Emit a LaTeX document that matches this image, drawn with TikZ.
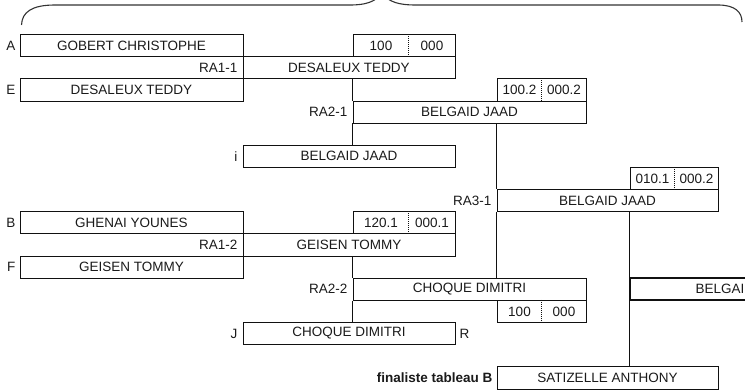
\documentclass[tikz,border=0pt]{standalone}
\usepackage{fontspec}
\setmainfont{Liberation Sans}
\usetikzlibrary{calc,positioning}
\definecolor{txt}{HTML}{1A1A1A}
\definecolor{ln}{HTML}{111111}
\definecolor{brc}{HTML}{333333}
\newcommand{\fsz}{\fontsize{13.5}{16}\selectfont}
\begin{document}
\begin{tikzpicture}[x=1pt,y=-1pt,
  namebox/.style={draw=ln, line width=0.8pt, rectangle, inner sep=0pt, minimum height=22.15pt, text=txt, font=\fsz},
  scorebox/.style={draw=ln, line width=0.8pt, rectangle, inner sep=0pt, minimum height=22.15pt},
  thickbox/.style={namebox, line width=2pt},
  num/.style={inner sep=0pt, text=txt, font=\fsz},
  lbl/.style={inner sep=0pt, text=txt, font=\fsz},
  conn/.style={draw=ln, line width=0.8pt},
  dotsep/.style={draw=ln, line width=0.7pt, dash pattern=on 0.8pt off 1.2pt},
  brace/.style={draw=brc, line width=1.1pt}]
\useasboundingbox (0,0) rectangle (745,390);
\clip (0,0) rectangle (745,390);

% brace
\draw[brace] (21.5,25) .. controls (22,12) and (32,5) .. (55,5) -- (350,5)
  .. controls (366,5) and (374,2) .. (382,-6);
\draw[brace] (382,-6) .. controls (390,2) and (398,5) .. (416,5) -- (718,5)
  .. controls (735,5) and (742,12) .. (742,22);

% first quarter
\node[namebox, minimum width=223pt] (A) at (131.5,45.575) {GOBERT CHRISTOPHE};
\node[scorebox, minimum width=102pt] (S1) at (404,45.575) {};
\node[num] (S1a) at (381,45.575) {100};
\node[num] (S1b) at (432,45.575) {000};
\node[namebox, minimum width=212pt] (RA11) at (349,67.725) {DESALEUX TEDDY};
\node[namebox, minimum width=223pt] (E) at (131.5,89.875) {DESALEUX TEDDY};
\node[scorebox, minimum width=89pt] (S2) at (541.5,89.875) {};
\node[num] (S2a) at (519.5,89.875) {100.2};
\node[num] (S2b) at (564,89.875) {000.2};
\node[namebox, minimum width=233pt] (RA21) at (469.5,112.025) {BELGAID JAAD};
\node[namebox, minimum width=212pt] (I) at (349,156.325) {BELGAID JAAD};
\node[scorebox, minimum width=88pt] (S3) at (674,178.475) {};
\node[num] (S3a) at (652.5,178.475) {010.1};
\node[num] (S3b) at (696.5,178.475) {000.2};
\node[namebox, minimum width=221pt] (RA31) at (607.5,200.625) {BELGAID JAAD};

% second quarter
\node[namebox, minimum width=223pt] (B) at (131.5,222.775) {GHENAI YOUNES};
\node[scorebox, minimum width=102pt] (S4) at (404,222.775) {};
\node[num] (S4a) at (381,222.775) {120.1};
\node[num] (S4b) at (432,222.775) {000.1};
\node[namebox, minimum width=212pt] (RA12) at (349,244.925) {GEISEN TOMMY};
\node[namebox, minimum width=223pt] (F) at (131.5,267.075) {GEISEN TOMMY};
\node[namebox, minimum width=233pt] (RA22) at (469.5,289.225) {CHOQUE DIMITRI};
\node[scorebox, minimum width=89pt] (S5) at (541.5,311.375) {};
\node[num] (S5a) at (519.5,311.375) {100};
\node[num] (S5b) at (564,311.375) {000};
\node[namebox, minimum width=212pt] (J) at (349,333.525) {CHOQUE DIMITRI};

% right side
\node[namebox, minimum width=221pt] (FIN) at (607.5,377.825) {SATIZELLE ANTHONY};
\draw[conn] (RA31.south -| S3.south west) -- (FIN.north -| S3.south west);
\node[thickbox, minimum width=228pt] (BEL) at (744,289.225) {BELGAID JAAD};

% labels
\node[lbl, left=4pt of A] (lA) {A};
\node[lbl, left=4pt of E] (lE) {E};
\node[lbl, left=4pt of B] (lB) {B};
\node[lbl, left=4pt of F] (lF) {F};
\node[lbl, left=5pt of RA11] (lRA11) {RA1-1};
\node[lbl, left=5pt of RA12] (lRA12) {RA1-2};
\node[lbl, left=5pt of RA21] (lRA21) {RA2-1};
\node[lbl, left=5pt of RA22] (lRA22) {RA2-2};
\node[lbl, left=5pt of RA31] (lRA31) {RA3-1};
\node[lbl, left=5pt of I] (lI) {i};
\node[lbl, left=5pt of J] (lJ) {J};
\node[lbl, right=4pt of J] (lR) {R};
\node[lbl, left=4pt of FIN, font=\fsz\bfseries] (lFIN) {finaliste tableau B};

% dotted separators in score boxes
\draw[dotsep] ($(S1.north west)+(56,0)$) -- ($(S1.south west)+(56,0)$);
\draw[dotsep] ($(S2.north west)+(45,0)$) -- ($(S2.south west)+(45,0)$);
\draw[dotsep] ($(S3.north west)+(45,0)$) -- ($(S3.south west)+(45,0)$);
\draw[dotsep] ($(S4.north west)+(56,0)$) -- ($(S4.south west)+(56,0)$);
\draw[dotsep] ($(S5.north west)+(45,0)$) -- ($(S5.south west)+(45,0)$);

% connectors
\draw[conn] (RA11.south -| RA21.north west) -- (RA21.north west);
\draw[conn] (RA21.south west) -- (I.north -| RA21.south west);
\draw[conn] (RA21.south -| RA31.north west) -- (RA31.north west);
\draw[conn] (RA31.south west) -- (RA22.north -| RA31.south west);
\draw[conn] (RA12.south -| RA22.north west) -- (RA22.north west);
\draw[conn] (RA22.south west) -- (J.north -| RA22.south west);
\end{tikzpicture}
\end{document}
